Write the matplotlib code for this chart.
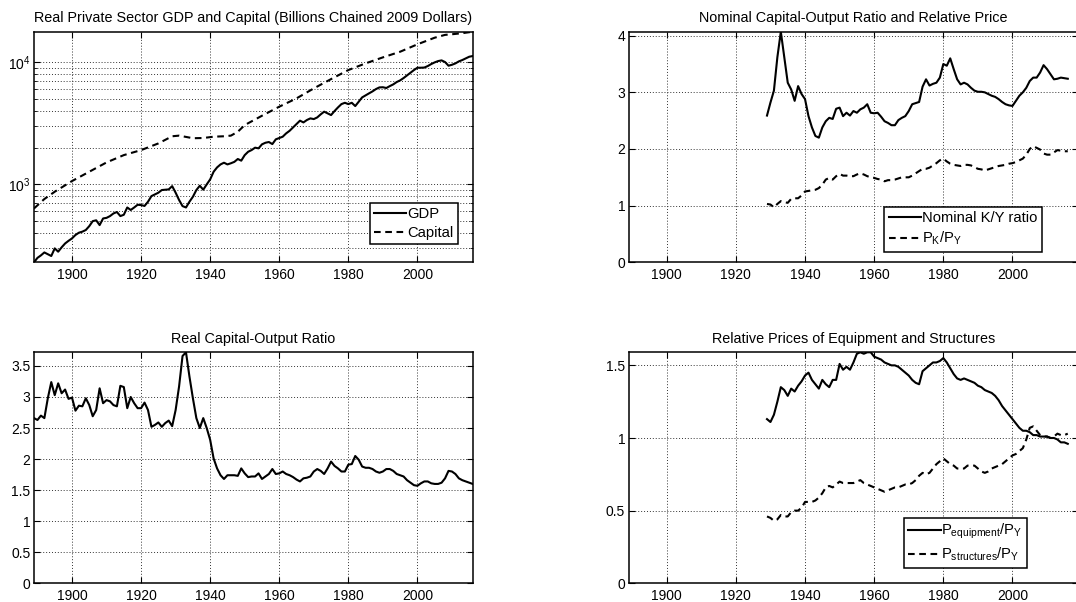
import numpy as np
import matplotlib
matplotlib.use('Agg')
import matplotlib.pyplot as plt
from matplotlib.ticker import FuncFormatter, LogLocator, NullFormatter

plt.rcParams['font.family'] = ['Liberation Sans', 'DejaVu Sans']
plt.rcParams['font.size'] = 10

# Datos (anuales)
years = np.arange(1889, 2017)
years_post = np.arange(1929, 2017)

gdp = [230, 250, 262, 277, 268, 259, 299, 281, 305, 328,
       345, 361, 385, 402, 410, 423, 455, 500, 508, 464,
       526, 532, 550, 578, 594, 550, 564, 647, 617, 647,
       681, 677, 666, 721, 802, 828, 855, 899, 905, 910,
       968, 855, 745, 664, 647, 721, 792, 899, 975, 905,
       1000, 1099, 1270, 1378, 1458, 1506, 1458, 1490, 1530, 1615,
       1565, 1738, 1852, 1912, 2000, 1975, 2130, 2195, 2225, 2140,
       2340, 2400, 2460, 2620, 2750, 2930, 3125, 3330, 3220, 3370,
       3475, 3430, 3540, 3750, 3945, 3820, 3700, 3990, 4275, 4550,
       4665, 4550, 4665, 4385, 4760, 5165, 5370, 5575, 5785, 6045,
       6235, 6255, 6165, 6390, 6600, 6900, 7120, 7440, 7820, 8225,
       8650, 9040, 9040, 9070, 9330, 9690, 10000, 10250, 10380, 10060,
       9390, 9560, 9810, 10190, 10450, 10790, 11125, 11270]

capital_years = [1889, 1892, 1895, 1900, 1905, 1910, 1915, 1920, 1925, 1929,
                 1931, 1933, 1935, 1938, 1941, 1944, 1946, 1948, 1950, 1955,
                 1960, 1965, 1970, 1975, 1980, 1985, 1990, 1995, 2000, 2005,
                 2008, 2010, 2013, 2016]
capital = [635, 759, 871, 1065, 1270, 1514, 1738, 1910, 2167, 2480,
           2510, 2450, 2390, 2400, 2460, 2480, 2510, 2700, 3063, 3653,
           4333, 5070, 6120, 7295, 8650, 9815, 10990, 12225, 14060, 15930,
           16800, 17000, 17350, 17830]

ky_real = [2.66, 2.63, 2.70, 2.66, 2.98, 3.24, 3.03, 3.22, 3.06, 3.12,
           2.97, 2.99, 2.78, 2.86, 2.85, 2.98, 2.87, 2.69, 2.79, 3.14,
           2.90, 2.95, 2.93, 2.87, 2.85, 3.18, 3.16, 2.82, 3.00, 2.90,
           2.82, 2.82, 2.91, 2.79, 2.52, 2.55, 2.59, 2.52, 2.58, 2.62,
           2.53, 2.79, 3.17, 3.66, 3.72, 3.33, 2.98, 2.66, 2.50, 2.66,
           2.50, 2.31, 2.01, 1.85, 1.74, 1.68, 1.74, 1.74, 1.74, 1.73,
           1.85, 1.77, 1.71, 1.72, 1.72, 1.77, 1.68, 1.72, 1.76, 1.84,
           1.76, 1.77, 1.80, 1.76, 1.74, 1.71, 1.67, 1.64, 1.69, 1.70,
           1.72, 1.80, 1.84, 1.81, 1.76, 1.85, 1.96, 1.89, 1.85, 1.80,
           1.80, 1.91, 1.92, 2.05, 1.99, 1.88, 1.86, 1.86, 1.84, 1.80,
           1.78, 1.80, 1.84, 1.84, 1.81, 1.76, 1.74, 1.72, 1.66, 1.62,
           1.58, 1.57, 1.61, 1.64, 1.64, 1.61, 1.60, 1.60, 1.62, 1.69,
           1.81, 1.80, 1.76, 1.69, 1.66, 1.64, 1.62, 1.60]

ky_nominal = [2.59, 2.82, 3.03, 3.62, 4.07, 3.62, 3.17, 3.05, 2.85, 3.11,
              2.97, 2.88, 2.58, 2.38, 2.23, 2.20, 2.38, 2.49, 2.55, 2.53,
              2.71, 2.73, 2.58, 2.64, 2.59, 2.67, 2.64, 2.70, 2.73, 2.79,
              2.64, 2.63, 2.64, 2.57, 2.49, 2.46, 2.42, 2.42, 2.51, 2.55,
              2.58, 2.67, 2.79, 2.81, 2.83, 3.10, 3.23, 3.12, 3.15, 3.17,
              3.26, 3.50, 3.47, 3.60, 3.41, 3.23, 3.14, 3.17, 3.14, 3.08,
              3.03, 3.01, 3.01, 3.00, 2.97, 2.94, 2.92, 2.88, 2.83, 2.79,
              2.77, 2.76, 2.85, 2.94, 3.00, 3.08, 3.20, 3.26, 3.26, 3.35,
              3.48, 3.41, 3.32, 3.23, 3.24, 3.26, 3.25, 3.24]

pk_py = [1.03, 1.02, 0.97, 1.03, 1.08, 1.06, 1.05, 1.12, 1.13, 1.13,
         1.18, 1.25, 1.26, 1.27, 1.28, 1.31, 1.37, 1.46, 1.49, 1.46,
         1.52, 1.56, 1.53, 1.53, 1.52, 1.52, 1.55, 1.57, 1.55, 1.52,
         1.50, 1.49, 1.47, 1.46, 1.43, 1.45, 1.45, 1.46, 1.48, 1.50,
         1.50, 1.50, 1.53, 1.57, 1.61, 1.65, 1.65, 1.67, 1.71, 1.75,
         1.80, 1.83, 1.78, 1.74, 1.72, 1.71, 1.70, 1.72, 1.72, 1.71,
         1.68, 1.65, 1.64, 1.62, 1.64, 1.66, 1.68, 1.70, 1.71, 1.72,
         1.74, 1.75, 1.77, 1.80, 1.83, 1.90, 2.00, 2.05, 2.02, 1.99,
         1.92, 1.90, 1.90, 1.94, 1.98, 1.97, 1.96, 1.96]

p_equip = [1.13, 1.11, 1.16, 1.25, 1.35, 1.33, 1.29, 1.34, 1.32, 1.36,
           1.39, 1.43, 1.45, 1.40, 1.37, 1.34, 1.40, 1.37, 1.35, 1.40,
           1.40, 1.51, 1.47, 1.49, 1.47, 1.52, 1.58, 1.59, 1.58, 1.59,
           1.59, 1.56, 1.55, 1.54, 1.52, 1.51, 1.50, 1.50, 1.49, 1.47,
           1.45, 1.43, 1.40, 1.38, 1.37, 1.46, 1.48, 1.50, 1.52, 1.52,
           1.53, 1.55, 1.52, 1.48, 1.44, 1.41, 1.40, 1.41, 1.40, 1.39,
           1.38, 1.36, 1.35, 1.33, 1.32, 1.31, 1.29, 1.26, 1.22, 1.19,
           1.16, 1.13, 1.10, 1.07, 1.05, 1.05, 1.04, 1.02, 1.02, 1.01,
           1.01, 1.01, 1.00, 1.00, 0.99, 0.97, 0.97, 0.96]

p_struct = [0.46, 0.45, 0.43, 0.44, 0.47, 0.46, 0.46, 0.49, 0.50, 0.50,
            0.52, 0.56, 0.56, 0.56, 0.57, 0.59, 0.62, 0.66, 0.67, 0.66,
            0.68, 0.70, 0.69, 0.69, 0.69, 0.69, 0.70, 0.71, 0.69, 0.68,
            0.67, 0.66, 0.65, 0.64, 0.63, 0.64, 0.65, 0.66, 0.66, 0.67,
            0.68, 0.68, 0.69, 0.71, 0.74, 0.76, 0.75, 0.76, 0.79, 0.82,
            0.84, 0.86, 0.84, 0.82, 0.81, 0.79, 0.79, 0.79, 0.81, 0.81,
            0.81, 0.79, 0.77, 0.76, 0.77, 0.79, 0.80, 0.81, 0.82, 0.84,
            0.86, 0.88, 0.89, 0.91, 0.93, 0.99, 1.07, 1.08, 1.05, 1.02,
            1.01, 1.01, 1.00, 1.01, 1.03, 1.02, 1.02, 1.03]

xticks = [1900, 1920, 1940, 1960, 1980, 2000]
dash = (0, (3.2, 2.2))
lw = 1.5

fig = plt.figure(figsize=(10.76, 6.02), dpi=100)
# la figura original esta recortada a la derecha
ax1 = fig.add_axes([0.0316, 0.5643, 0.4077, 0.3830])
ax2 = fig.add_axes([0.5843, 0.5643, 0.4177, 0.3830])
ax3 = fig.add_axes([0.0316, 0.0311, 0.4077, 0.3837])
ax4 = fig.add_axes([0.5843, 0.0311, 0.4177, 0.3837])


def estilo(ax, xmax=2016):
    ax.set_xlim(1889, xmax)
    ax.set_xticks(xticks)
    ax.grid(True, which='major', linestyle=(0, (1, 2)), color='0.2', linewidth=0.7)
    ax.tick_params(direction='in', top=True, right=True, length=4, width=0.8, labelsize=10)
    ax.tick_params(axis='x', pad=4)
    ax.tick_params(axis='y', pad=2.5)
    ax.tick_params(which='minor', direction='in', top=True, right=True, length=2.5, width=0.6)
    for s in ax.spines.values():
        s.set_linewidth(1.1)


def leyenda(ax, labels, anchor):
    leg = ax.legend(labels, loc='lower right', bbox_to_anchor=anchor, fontsize=10.6,
                    fancybox=False, framealpha=1, edgecolor='black', handlelength=2.2,
                    handletextpad=0.05, borderpad=0.3, labelspacing=0.3, borderaxespad=0)
    leg.get_frame().set_linewidth(1.1)


# Panel 1: PIB y capital (escala log)
ax1.semilogy(years, gdp, 'k', lw=lw)
ax1.semilogy(capital_years, capital, 'k', lw=lw, linestyle=dash)
estilo(ax1)
ax1.set_ylim(min(gdp), max(capital))
ax1.yaxis.set_major_locator(LogLocator(base=10))
ax1.yaxis.set_minor_locator(LogLocator(base=10, subs=np.arange(2, 10)))
ax1.yaxis.set_minor_formatter(NullFormatter())
ax1.grid(True, which='minor', linestyle=(0, (1, 2)), color='0.2', linewidth=0.7)
ax1.set_title('Real Private Sector GDP and Capital (Billions Chained 2009 Dollars)', fontsize=10.4, pad=7)
leyenda(ax1, ['GDP', 'Capital'], (0.966, 0.078))

# Panel 2: K/Y nominal y precio relativo
ax2.plot(years_post, ky_nominal, 'k', lw=lw)
ax2.plot(years_post, pk_py, 'k', lw=lw, linestyle=dash)
estilo(ax2, 2019)
ax2.set_ylim(0, max(ky_nominal))
ax2.set_yticks([0, 1, 2, 3, 4])
ax2.yaxis.set_major_formatter(FuncFormatter(lambda v, p: '%g' % v))
ax2.set_title('Nominal Capital-Output Ratio and Relative Price', fontsize=10.4, pad=7)
leyenda(ax2, ['Nominal K/Y ratio', r'$\mathregular{P_K/P_Y}$'], (0.919, 0.046))

# Panel 3: K/Y real
ax3.plot(years, ky_real, 'k', lw=lw)
estilo(ax3)
ax3.set_ylim(0, max(ky_real))
ax3.set_yticks(np.arange(0, 3.6, 0.5))
ax3.yaxis.set_major_formatter(FuncFormatter(lambda v, p: '%g' % v))
ax3.set_title('Real Capital-Output Ratio', fontsize=10.4, pad=7)

# Panel 4: precios relativos de equipo y estructuras
ax4.plot(years_post, p_equip, 'k', lw=lw)
ax4.plot(years_post, p_struct, 'k', lw=lw, linestyle=dash)
estilo(ax4, 2019)
ax4.set_ylim(0, max(p_equip))
ax4.set_yticks([0, 0.5, 1, 1.5])
ax4.yaxis.set_major_formatter(FuncFormatter(lambda v, p: '%g' % v))
ax4.set_title('Relative Prices of Equipment and Structures', fontsize=10.4, pad=7)
leyenda(ax4, [r'$\mathregular{P_{equipment}/P_Y}$', r'$\mathregular{P_{structures}/P_Y}$'], (0.886, 0.068))

fig.savefig('out.png', dpi=100)
